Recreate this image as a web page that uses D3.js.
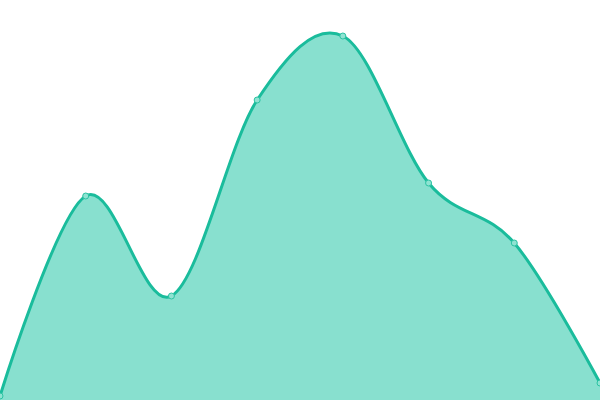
<!DOCTYPE html>
<html>
<head>
<meta charset="utf-8">
<script src="https://cdn.jsdelivr.net/npm/d3@7"></script>
<style>
  body { margin: 0; background: #fff; }
  svg { display: block; }
</style>
</head>
<body>
<svg id="chart" width="600" height="400"></svg>
<script>
// series values, one per category
const categories = ["A", "B", "C", "D", "E", "F", "G", "H"];
const values = [4, 204, 104, 300, 364, 217, 157, 17];

const width = 600;
const height = 400;

const svg = d3.select("#chart");

const xScale = d3.scalePoint()
                 .domain(categories)
                 .range([0, width]);
const yScale = d3.scaleLinear()
                 .domain([0, 400])
                 .range([height, 0]);

const data = categories.map((c, i) => ({ c: c, v: values[i] }));

const area = d3.area()
               .x(d => xScale(d.c))
               .y0(height)
               .y1(d => yScale(d.v))
               .curve(d3.curveCatmullRom.alpha(0));

const line = d3.line()
               .x(d => xScale(d.c))
               .y(d => yScale(d.v))
               .curve(d3.curveCatmullRom.alpha(0));

svg.append("path")
   .datum(data)
   .attr("fill", "#88e0cf")
   .attr("d", area);

svg.append("path")
   .datum(data)
   .attr("fill", "none")
   .attr("stroke", "#1abc9c")
   .attr("stroke-width", 3)
   .attr("d", line);

svg.selectAll("circle")
   .data(data)
   .enter()
   .append("circle")
   .attr("cx", d => xScale(d.c))
   .attr("cy", d => yScale(d.v))
   .attr("r", 3)
   .attr("fill", "#8fe3d2")
   .attr("stroke", "#2cc3a3")
   .attr("stroke-width", 1);
</script>
</body>
</html>
